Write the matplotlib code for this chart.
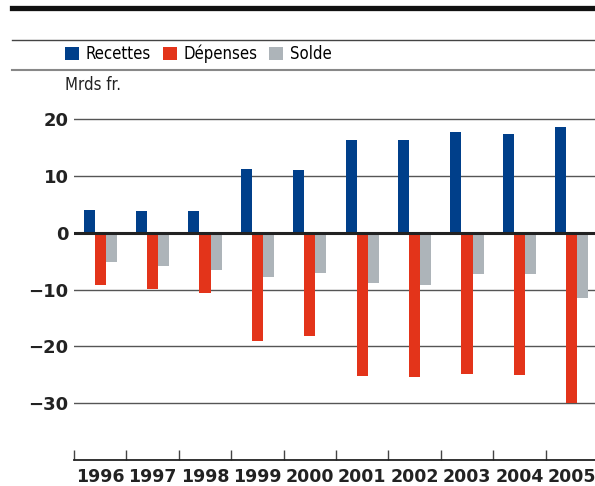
import matplotlib
matplotlib.use('Agg')
import matplotlib.pyplot as plt
from matplotlib.lines import Line2D
import numpy as np

years = ['1996', '1997', '1998', '1999', '2000', '2001', '2002', '2003', '2004', '2005']
recettes = [4.0, 3.9, 3.9, 11.2, 11.0, 16.3, 16.3, 17.7, 17.5, 18.6]
depenses = [-9.2, -9.8, -10.5, -19.1, -18.2, -25.2, -25.4, -24.9, -25.0, -29.9]
solde = [-5.2, -5.9, -6.6, -7.8, -7.1, -8.9, -9.1, -7.3, -7.3, -11.4]
yticks = [20, 10, 0, -10, -20, -30]

blue = '#003f8a'
red = '#e3341a'
grey = '#adb4b9'

plt.rcParams['font.family'] = 'DejaVu Sans'

fig = plt.figure(figsize=(5.95, 4.86), dpi=100)
ax = fig.add_axes([74 / 595, 26 / 486, 1 - 74 / 595, (460 - 108) / 486])

x = np.arange(len(years))
w = 0.21
b1 = ax.bar(x - w, recettes, w, color=blue, zorder=3, label='Recettes')
b2 = ax.bar(x, depenses, w, color=red, zorder=3, label='Dépenses')
b3 = ax.bar(x + w, solde, w, color=grey, zorder=3, label='Solde')

ax.set_xlim(-0.5, -0.5 + 521 / 52.4)
ax.set_ylim(-40, 22)

# horizontal grid, heavier line at zero
for v in yticks:
    ax.axhline(v, color='#222222' if v == 0 else '#555555',
               lw=2.2 if v == 0 else 1.0, zorder=2 if v else 4)

for s in ['top', 'right', 'left']:
    ax.spines[s].set_visible(False)
ax.spines['bottom'].set_color('#222222')
ax.spines['bottom'].set_linewidth(1.3)

ax.set_yticks(yticks)
ax.set_yticklabels(['20', '10', '0', '−10', '−20', '−30'], fontsize=13, fontweight='bold', color='#222222')
ax.tick_params(axis='y', length=0, pad=4)

ax.set_xticks(x - 0.5, minor=True)
ax.set_xticks(x)
ax.set_xticklabels(years, fontsize=12.5, fontweight='bold', color='#222222')
ax.tick_params(axis='x', which='major', length=0, pad=6)
ax.tick_params(axis='x', which='minor', direction='in', length=7, width=1, color='#444444')

# header rules
fig.add_artist(Line2D([12 / 595, 1], [1 - 8.5 / 486] * 2, color='#111111', lw=3.8))
fig.add_artist(Line2D([12 / 595, 1], [1 - 40 / 486] * 2, color='#444444', lw=1))
fig.add_artist(Line2D([12 / 595, 1], [1 - 70 / 486] * 2, color='#888888', lw=1.5))

fig.legend(handles=[b1, b2, b3], loc='center left', bbox_to_anchor=(65 / 595, 1 - 54 / 486),
           ncol=3, frameon=False, borderpad=0, borderaxespad=0,
           prop={'size': 12, 'stretch': 'condensed'},
           handlelength=0.85, handleheight=0.9, handletextpad=0.4, columnspacing=0.7)

fig.text(65 / 595, 1 - 85 / 486, 'Mrds fr.', fontsize=12, fontstretch='condensed',
         va='center', ha='left', color='#222222')

fig.savefig('out.png', dpi=100)
